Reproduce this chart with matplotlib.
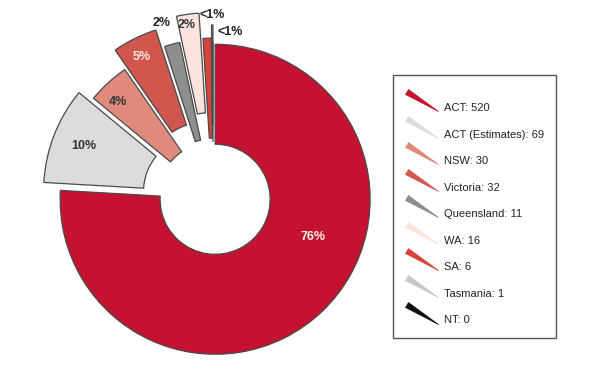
import matplotlib.pyplot as plt
from matplotlib.lines import Line2D
from matplotlib.path import Path
from matplotlib.patches import Rectangle

plt.rcParams['font.family'] = ['Liberation Sans', 'DejaVu Sans']

states = ['ACT', 'ACT (Estimates)', 'NSW', 'Victoria', 'Queensland',
          'WA', 'SA', 'Tasmania', 'NT']
counts = [520, 69, 30, 32, 11, 16, 6, 1, 0]
colors = ['#c41230', '#dcdcdc', '#e08a7c', '#d0564e', '#8e8e8e',
          '#fbe4de', '#d5433b', '#c8c8c8', '#111111']
explode = [0.02, 0.1, 0.0, 0.14, 0.02, 0.19, 0.025, 0.11, 0]


def pct(p):
    if p == 0:
        return ''
    if p < 1:
        return '<1%'
    return '%.0f%%' % p


W, H = 594, 375
cx, cy, R = 213, 197, 155   # pie centre / radius in pixels

fig = plt.figure(figsize=(W / 100, H / 100), dpi=100)
ax = fig.add_axes([0, 0, 1, 1])

wedges, texts, autotexts = ax.pie(
    counts, colors=colors, explode=explode, startangle=90, counterclock=False,
    radius=1, autopct=pct, pctdistance=0.8,
    wedgeprops=dict(width=0.645, edgecolor='#4a4a4a', linewidth=0.9),
    textprops=dict(fontsize=9, fontweight='bold'))

# label placement (pixel positions)
label_px = [(313, 237), (84, 146), (118, 102), (142, 57), (162, 23),
            (187, 25), (212, 15), (230, 32), (0, 0)]
label_col = ['#fff4e8', '#333333', '#333333', '#ffe8e0', '#222222',
             '#333333', '#222222', '#222222', '#222222']
for t, (px, py), c in zip(autotexts, label_px, label_col):
    t.set_position(((px - cx) / R, (cy - py) / R))
    t.set_color(c)

ax.set_xlim(-cx / R, (W - cx) / R)
ax.set_ylim(-(H - cy) / R, cy / R)
ax.set_aspect('equal')
ax.axis('off')

# legend with little wedge markers
wedge_mark = Path([(-16, 13), (-13, 18), (17, -4), (-16, 13)],
                  [Path.MOVETO, Path.LINETO, Path.LINETO, Path.CLOSEPOLY])
handles = [Line2D([], [], linestyle='None', marker=wedge_mark, markersize=25.9,
                  markerfacecolor=c, markeredgecolor=c, markeredgewidth=0.5)
           for c in colors]
labels = ['%s: %d' % (s, v) for s, v in zip(states, counts)]
ax.legend(handles, labels, loc='upper left', numpoints=1,
          bbox_to_anchor=(407 / W, 1 - 103 / H), bbox_transform=fig.transFigure,
          frameon=False, borderpad=0, borderaxespad=0, fontsize=8,
          handlelength=2.5, handletextpad=0.82, labelspacing=1.49,
          labelcolor='#222222')
fig.add_artist(Rectangle((393 / W, 1 - 338 / H), (556 - 393) / W, (338 - 75) / H,
                         transform=fig.transFigure, fill=False,
                         edgecolor='#555555', linewidth=1))

fig.savefig('out.png', dpi=100)
